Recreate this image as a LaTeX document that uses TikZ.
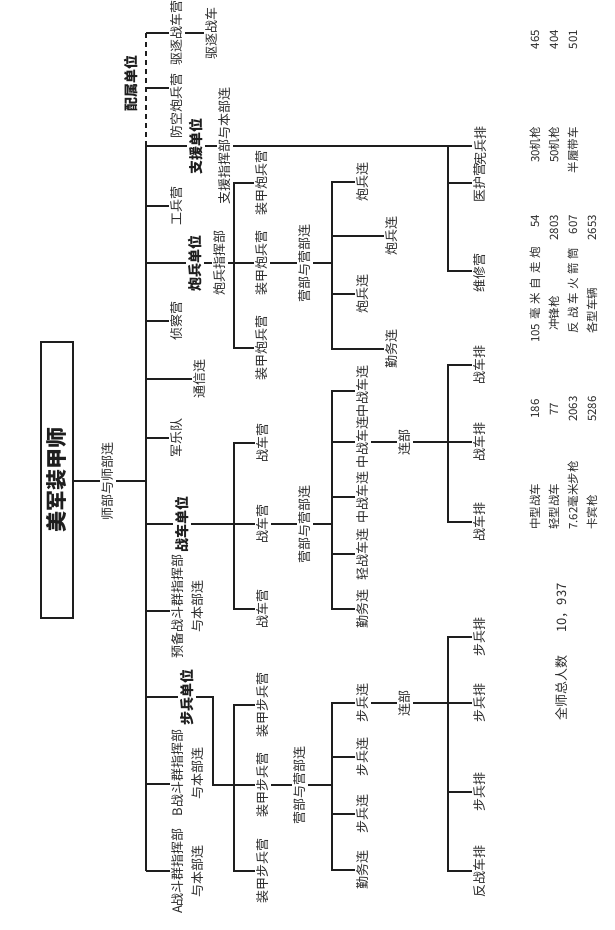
\documentclass[tikz,border=0pt]{standalone}
\usepackage{fontspec}
\setmainfont{Noto Sans CJK SC}
\definecolor{lc}{HTML}{1E1E1E}
\definecolor{tc}{HTML}{2B2B2B}
\begin{document}
\begin{tikzpicture}[x=1pt,y=-1pt,
  ln/.style={line width=2pt, draw=lc},
  dsh/.style={line width=2pt, draw=lc, dash pattern=on 5pt off 4pt},
  lab/.style={rotate=90, inner sep=2pt, text=tc, font=\fontsize{13}{20}\selectfont, align=center},
  bunit/.style={rotate=90, inner sep=2pt, text=lc, font=\fontsize{14}{20}\selectfont\bfseries, align=center},
  stat/.style={rotate=90, inner sep=0pt, text=tc, font=\fontsize{11.5}{14}\selectfont},
  statw/.style={stat, anchor=west},
  state/.style={stat, anchor=east},
]
\useasboundingbox[fill=white] (0,0) rectangle (615,930);

% ---------- spine coordinates ----------
\coordinate (sQ) at (146,33);
\coordinate (sF) at (146,88);
\coordinate (sZ) at (146,146);
\coordinate (sG) at (146,206);
\coordinate (sP) at (146,263);
\coordinate (sC) at (146,321);
\coordinate (sT) at (146,379);
\coordinate (sY) at (146,438);
\coordinate (sH) at (146,481);
\coordinate (sK) at (146,524);
\coordinate (sR) at (146,611);
\coordinate (sI) at (146,697);
\coordinate (sB) at (146,784);
\coordinate (sA) at (146,871);

% ---------- root ----------
\node[draw=lc, line width=2pt, rotate=90, minimum width=276pt, minimum height=32pt,
      inner sep=0pt, text=lc, font=\fontsize{21}{24}\selectfont\bfseries] (root) at (57,480) {美军装甲师};
\node[lab] (sb) at (108,481) {师部与师部连};

% ---------- attached units ----------
\node[bunit] (pshu) at (131,83) {配属单位};
\node[lab] (qzy) at (177,33) {驱逐战车营};
\node[lab] (qzc) at (212,33) {驱逐战车};
\node[lab] (fk) at (177,106) {防空炮兵营};

% ---------- support ----------
\node[bunit] (zy) at (196,146) {支援单位};
\node[lab] (zyhq) at (225,146) {支援指挥部与本部连};
\node[lab] (xb) at (480,146) {宪兵排};
\node[lab] (yh) at (480,183) {医护营};
\node[lab] (wx) at (480,273) {维修营};
\coordinate (zJ1) at (448,146);
\coordinate (zJ2) at (448,271);

% ---------- spine labels ----------
\node[lab] (gb) at (177,206) {工兵营};
\node[lab] (zc) at (177,321) {侦察营};
\node[lab] (tx) at (200,379) {通信连};
\node[lab] (yy) at (177,438) {军乐队};

% ---------- artillery ----------
\node[bunit] (pb) at (195,263) {炮兵单位};
\node[lab] (pbhq) at (220,263) {炮兵指挥部};
\node[lab] (apb1) at (262,183) {装甲炮兵营};
\node[lab] (apb2) at (262,263) {装甲炮兵营};
\node[lab] (apb3) at (262,348) {装甲炮兵营};
\node[lab] (aphq) at (305,263) {营部与营部连};
\coordinate (aV1) at (234,183);
\coordinate (aV3) at (234,348);
\coordinate (aW0) at (332,263);
\coordinate (aW1) at (332,182);
\coordinate (aW2) at (332,236);
\coordinate (aW3) at (332,294);
\coordinate (aW4) at (332,349);
\node[lab] (pl1) at (363,182) {炮兵连};
\node[lab] (pl2) at (392,236) {炮兵连};
\node[lab] (pl3) at (363,294) {炮兵连};
\node[lab] (qw1) at (392,349) {勤务连};

% ---------- tanks ----------
\node[bunit] (tk) at (182,524) {战车单位};
\node[lab] (yb) at (188,606) {预备战斗群指挥部\\与本部连};
\node[lab] (tb1) at (263,443) {战车营};
\node[lab] (tb2) at (263,524) {战车营};
\node[lab] (tb3) at (263,609) {战车营};
\node[lab] (tkhq) at (305,524) {营部与营部连};
\coordinate (tV1) at (234,443);
\coordinate (tV3) at (234,609);
\coordinate (tW0) at (332,524);
\coordinate (tW1) at (332,391);
\coordinate (tW2) at (332,442);
\coordinate (tW3) at (332,497);
\coordinate (tW4) at (332,554);
\coordinate (tW5) at (332,609);
\node[lab] (zc1) at (363,391) {中战车连};
\node[lab] (zc2) at (363,442) {中战车连};
\node[lab] (zc3) at (363,497) {中战车连};
\node[lab] (qzl) at (363,554) {轻战车连};
\node[lab] (qw2) at (363,609) {勤务连};
\node[lab] (lb1) at (405,442) {连部};
\node[lab] (tp1) at (480,365) {战车排};
\node[lab] (tp2) at (480,442) {战车排};
\node[lab] (tp3) at (480,522) {战车排};
\coordinate (tX1) at (448,365);
\coordinate (tX3) at (448,522);

% ---------- infantry ----------
\node[bunit] (bb) at (187,697) {步兵单位};
\node[lab] (Bz) at (188,773) {B战斗群指挥部\\与本部连};
\node[lab] (Az) at (188,871) {A战斗群指挥部\\与本部连};
\coordinate (iK1) at (213,697);
\coordinate (iK2) at (213,785);
\node[lab] (ib1) at (263,705) {装甲步兵营};
\node[lab] (ib2) at (263,785) {装甲步兵营};
\node[lab] (ib3) at (263,871) {装甲步兵营};
\node[lab] (ihq) at (300,785) {营部与营部连};
\coordinate (iV1) at (234,705);
\coordinate (iV3) at (234,871);
\coordinate (iW0) at (332,785);
\coordinate (iW1) at (332,703);
\coordinate (iW2) at (332,757);
\coordinate (iW3) at (332,814);
\coordinate (iW4) at (332,870);
\node[lab] (bl1) at (363,703) {步兵连};
\node[lab] (bl2) at (363,757) {步兵连};
\node[lab] (bl3) at (363,814) {步兵连};
\node[lab] (qw3) at (363,870) {勤务连};
\node[lab] (lb2) at (405,703) {连部};
\node[lab] (bp1) at (480,637) {步兵排};
\node[lab] (bp2) at (480,703) {步兵排};
\node[lab] (bp3) at (480,792) {步兵排};
\node[lab] (fz) at (480,871) {反战车排};
\coordinate (iX1) at (448,637);
\coordinate (iX3) at (448,792);
\coordinate (iX4) at (448,871);

% ================= connectors =================
\draw[ln] (root.south |- sH) -- (sb.north);
\draw[ln] (sb.south) -- (sH);
\draw[dsh] (sQ) -- (sZ);
\draw[ln] (sA) -- (sZ) -- (zy.north);
\draw[ln] (sQ) -- (qzy.north);
\draw[ln] (qzy.south) -- (qzc.north);
\draw[ln] (sF) -- (fk.north |- sF);
\draw[ln] (zy.south) -- (zyhq.north);
\draw[ln] (zyhq.south) -- (xb.north);
\draw[ln] (wx.north |- zJ2) -- (zJ2) -- (zJ1);
\draw[ln] (448,183) -- (yh.north);
\draw[ln] (sG) -- (gb.north);
\draw[ln] (sC) -- (zc.north);
\draw[ln] (sT) -- (tx.north);
\draw[ln] (sY) -- (yy.north);
% artillery
\draw[ln] (sP) -- (pb.north);
\draw[ln] (pb.south) -- (pbhq.north);
\draw[ln] (pbhq.south) -- (apb2.north);
\draw[ln] (apb1.north) -- (aV1) -- (aV3) -- (apb3.north);
\draw[ln] (apb2.south) -- (aphq.north);
\draw[ln] (aphq.south) -- (aW0);
\draw[ln] (pl1.north) -- (aW1) -- (aW4) -- (qw1.north);
\draw[ln] (aW2) -- (pl2.north);
\draw[ln] (aW3) -- (pl3.north);
% tanks
\draw[ln] (sK) -- (tk.north);
\draw[ln] (tk.south) -- (tb2.north);
\draw[ln] (sR) -- (yb.north |- sR);
\draw[ln] (tb1.north) -- (tV1) -- (tV3) -- (tb3.north);
\draw[ln] (tb2.south) -- (tkhq.north);
\draw[ln] (tkhq.south) -- (tW0);
\draw[ln] (zc1.north) -- (tW1) -- (tW5) -- (qw2.north);
\draw[ln] (tW2) -- (zc2.north);
\draw[ln] (tW3) -- (zc3.north);
\draw[ln] (tW4) -- (qzl.north);
\draw[ln] (zc2.south) -- (lb1.north);
\draw[ln] (lb1.south) -- (tp2.north);
\draw[ln] (tp1.north) -- (tX1) -- (tX3) -- (tp3.north);
% infantry
\draw[ln] (sI) -- (bb.north);
\draw[ln] (bb.south) -- (iK1) -- (iK2) -- (ib2.north);
\draw[ln] (sB) -- (Bz.north |- sB);
\draw[ln] (sA) -- (Az.north |- sA);
\draw[ln] (ib1.north) -- (iV1) -- (iV3) -- (ib3.north);
\draw[ln] (ib2.south) -- (ihq.north);
\draw[ln] (ihq.south) -- (iW0);
\draw[ln] (bl1.north) -- (iW1) -- (iW4) -- (qw3.north);
\draw[ln] (iW2) -- (bl2.north);
\draw[ln] (iW3) -- (bl3.north);
\draw[ln] (bl1.south) -- (lb2.north);
\draw[ln] (lb2.south) -- (bp2.north);
\draw[ln] (bp1.north) -- (iX1) -- (iX4) -- (fz.north);
\draw[ln] (iX3) -- (bp3.north);

% ================= statistics =================
\node[statw] (t11) at (535,530) {中型战车};
\node[statw] (t21) at (554,530) {轻型战车};
\node[statw] (t31) at (573,530) {7.62毫米步枪};
\node[statw] (t41) at (592,530) {卡宾枪};
\node[stat] (t12) at (535,409) {186};
\node[stat] (t22) at (554,409) {77};
\node[stat] (t32) at (573,409) {2063};
\node[stat] (t42) at (592,409) {5286};
\node[statw] (t13) at (535,343) {\makebox[96pt]{105\hfill 毫\hfill 米\hfill 自\hfill 走\hfill 炮}};
\node[statw] (t23) at (554,331) {冲锋枪};
\node[statw] (t33) at (573,334) {\makebox[86pt]{反\hfill 战\hfill 车\hfill 火\hfill 箭\hfill 筒}};
\node[statw] (t43) at (592,334) {各型车辆};
\node[state] (t14) at (535,215) {54};
\node[state] (t24) at (554,215) {2803};
\node[state] (t34) at (573,215) {607};
\node[state] (t44) at (592,215) {2653};
\node[state] (t15) at (535,127) {30机枪};
\node[state] (t25) at (554,127) {50机枪};
\node[state] (t35) at (573,127) {半履带车};
\node[state] (t16) at (535,30) {465};
\node[state] (t26) at (554,30) {404};
\node[state] (t36) at (573,30) {501};
\node[stat, font=\fontsize{13}{16}\selectfont] (tot) at (562,688) {全师总人数};
\node[stat, font=\fontsize{13}{16}\selectfont] (totn) at (562,608) {10，937};
\end{tikzpicture}
\end{document}
